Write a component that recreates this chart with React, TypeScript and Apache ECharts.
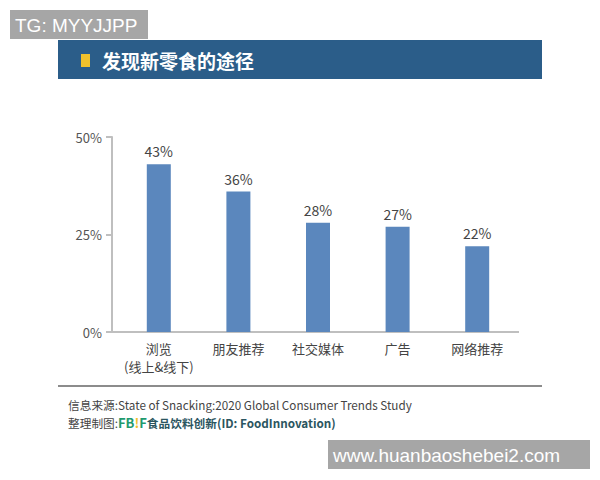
import React, { useEffect, useRef } from "react";
import * as echarts from "echarts";

const categories = ["浏览\n(线上&线下)", "朋友推荐", "社交媒体", "广告", "网络推荐"];
const values = [43, 36, 28, 27, 22];
const yTicks = [0, 25, 50];

const FONT = '"Noto Sans CJK SC", "Noto Sans", sans-serif';

export default function App() {
  const ref = useRef<HTMLDivElement>(null);
  useEffect(() => {
    if (!ref.current) return;
    const chart = echarts.init(ref.current, undefined, { renderer: "svg" });
    chart.setOption({
      animation: false,
      backgroundColor: "#ffffff",
      grid: { left: 119, right: 83, top: 137, bottom: 148 },
      xAxis: {
        type: "category",
        data: categories,
        axisLine: { show: false },
        axisTick: { show: false },
        axisLabel: {
          color: "#444",
          fontSize: 13,
          fontFamily: FONT,
          margin: 7,
          lineHeight: 18,
          interval: 0,
        },
      },
      yAxis: {
        type: "value",
        min: yTicks[0],
        max: yTicks[yTicks.length - 1],
        interval: 25,
        offset: 7,
        axisLine: { show: true, lineStyle: { color: "#bfbfbf", width: 2 } },
        axisTick: { show: true, length: 6, lineStyle: { color: "#bfbfbf", width: 2 } },
        splitLine: { show: false },
        axisLabel: {
          color: "#555",
          fontSize: 13,
          fontFamily: FONT,
          margin: 10,
          formatter: "{value}%",
        },
      },
      series: [
        {
          type: "bar",
          data: values,
          barWidth: 24,
          itemStyle: { color: "#5b87bd" },
          label: {
            show: true,
            position: "top",
            distance: 6,
            formatter: "{c}%",
            color: "#444",
            fontSize: 14,
            fontFamily: FONT,
          },
        },
      ],
      graphic: [
        { type: "line", shape: { x1: 112, y1: 332, x2: 519, y2: 332 }, style: { stroke: "#bfbfbf", lineWidth: 2 }, z: 1 },
        { type: "rect", shape: { x: 58, y: 40, width: 484, height: 39 }, style: { fill: "#2b5d89" } },
        { type: "rect", shape: { x: 81, y: 54, width: 9, height: 13 }, style: { fill: "#f0c12c" } },
        {
          type: "text",
          x: 102,
          y: 60,
          style: { text: "发现新零食的途径", fill: "#ffffff", font: `bold 19px ${FONT}`, verticalAlign: "middle" },
        },
        { type: "line", shape: { x1: 58, y1: 386, x2: 542, y2: 386 }, style: { stroke: "#666", lineWidth: 1.5 } },
        {
          type: "text",
          x: 68,
          y: 404,
          style: {
            text: "信息来源:State of Snacking:2020 Global Consumer Trends Study",
            fill: "#444",
            font: `11.7px ${FONT}`,
            verticalAlign: "middle",
          },
        },
        {
          type: "text",
          x: 68,
          y: 422,
          style: {
            text: "{a|整理制图:}{g|FB}{y|!}{g|F}{d|食品饮料创新(ID: FoodInnovation)}",
            verticalAlign: "middle",
            font: `12px ${FONT}`,
            rich: {
              a: { fill: "#444", font: `11.7px ${FONT}` },
              g: { fill: "#1f9a6e", font: `bold 13px ${FONT}` },
              y: { fill: "#f2c12e", font: `bold 13px ${FONT}` },
              d: { fill: "#2b5560", font: `bold 11.7px ${FONT}` },
            },
          },
        },
        { type: "rect", shape: { x: 10, y: 10, width: 138, height: 29 }, style: { fill: "#a6a6a6" } },
        {
          type: "text",
          x: 15,
          y: 25,
          style: { text: "TG: MYYJJPP", fill: "#ffffff", font: `19px "Liberation Sans", Arial, sans-serif`, verticalAlign: "middle" },
        },
        { type: "rect", shape: { x: 328, y: 440, width: 262, height: 29 }, style: { fill: "#a6a6a6" } },
        {
          type: "text",
          x: 333,
          y: 455,
          style: { text: "www.huanbaoshebei2.com", fill: "#ffffff", font: `19px "Liberation Sans", Arial, sans-serif`, verticalAlign: "middle" },
        },
      ],
    });
    return () => chart.dispose();
  }, []);
  return (
    <div
      ref={ref}
      style={{ position: "absolute", left: 0, top: 0, width: 600, height: 480 }}
    />
  );
}
